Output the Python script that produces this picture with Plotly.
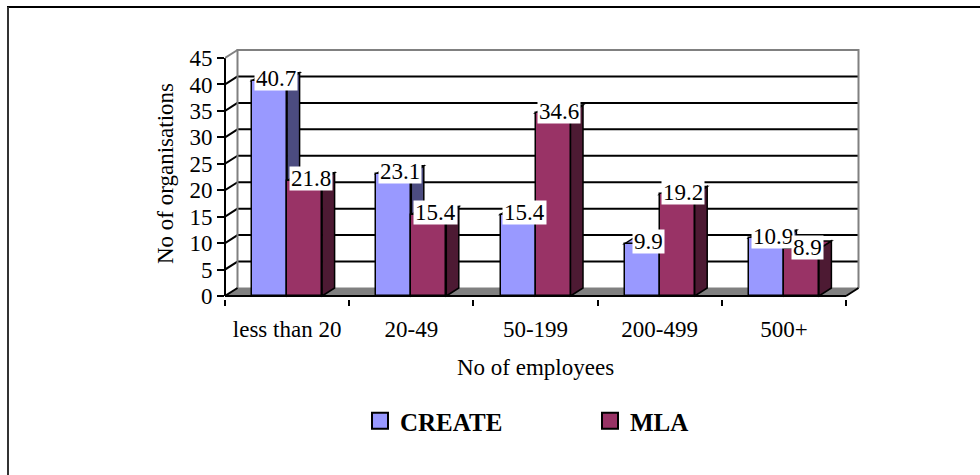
import plotly.graph_objects as go

# ---- data ----
categories = ["less than 20", "20-49", "50-199", "200-499", "500+"]
create_values = [40.7, 23.1, 15.4, 9.9, 10.9]
mla_values = [21.8, 15.4, 34.6, 19.2, 8.9]
y_ticks = [0, 5, 10, 15, 20, 25, 30, 35, 40, 45]
series_names = ["CREATE", "MLA"]

# ---- style ----
FONT = "Liberation Serif, Times New Roman, serif"
TXT = 23
FRONT = {"CREATE": "#9999FF", "MLA": "#993366"}
SIDE = {"CREATE": "#4C4C80", "MLA": "#4D1A33"}
WALL = "#808080"

W, H = 980, 475
# plot area in pixels
PL, PR, PT, PB = 225, 862, 47, 299
CAT_PX = 124.2          # pixels per category
UNIT_PX = 5.289         # pixels per value unit
ZERO_PX = 296           # pixel row of value 0 on the front plane
DEPTH_X, DEPTH_Y = 12.5, 8.0   # pixel offset of the back plane
BAR_PX = 35.0

n = len(categories)
x_lo = -0.5
x_hi = x_lo + (PR - PL) / CAT_PX
y_lo = -(PB - ZERO_PX) / UNIT_PX
y_hi = y_lo + (PB - PT) / UNIT_PX
DX = DEPTH_X / CAT_PX
DY = DEPTH_Y / UNIT_PX
BW = BAR_PX / CAT_PX
left, right = -0.5, n - 0.5
top = y_ticks[-1]


def paper_x(px):
    return (px - PL) / (PR - PL)


def paper_y(py):
    return (PB - py) / (PB - PT)


def poly(pts, fill, line="black", width=1.5, layer="below"):
    d = "M " + " L ".join(f"{x},{y}" for x, y in pts) + " Z"
    return dict(type="path", path=d, xref="x", yref="y", fillcolor=fill,
                line=dict(color=line, width=width), layer=layer)


def seg(x0, y0, x1, y1, color="black", width=2, xref="x", yref="y"):
    return dict(type="line", x0=x0, y0=y0, x1=x1, y1=y1, xref=xref, yref=yref,
                line=dict(color=color, width=width), layer="below")


shapes = []
# floor
shapes.append(poly([(left, 0), (right, 0), (right + DX, DY), (left + DX, DY)],
                   WALL, line=WALL, width=1))
# back-wall and side-wall gridlines
for v in y_ticks[1:-1]:
    shapes.append(seg(left + DX, v + DY, right + DX, v + DY))
    shapes.append(seg(left, v, left + DX, v + DY))
# wall outlines
shapes.append(dict(type="path", xref="x", yref="y", layer="below",
                   path=(f"M {left + DX},{DY} L {left + DX},{top + DY} "
                         f"L {right + DX},{top + DY} L {right + DX},{DY}"),
                   line=dict(color=WALL, width=2)))
shapes.append(seg(left, top, left + DX, top + DY, color=WALL))
# front edges of the floor and the value axis
shapes.append(seg(left, 0, right, 0))
shapes.append(seg(right, 0, right + DX, DY))
shapes.append(seg(left, 0, left + DX, DY))
shapes.append(seg(0, 0, 0, top, xref="paper", yref="y"))

# bar side and top faces, drawn left to right
series = [("CREATE", create_values, -BW), ("MLA", mla_values, 0.0)]
for i in range(n):
    for name, vals, off in series:
        v = vals[i]
        x0 = i + off
        x1 = x0 + BW
        shapes.append(poly([(x1, 0), (x1 + DX, DY), (x1 + DX, v + DY), (x1, v)],
                           SIDE[name]))
        shapes.append(poly([(x0, v), (x1, v), (x1 + DX, v + DY), (x0 + DX, v + DY)],
                           FRONT[name]))

# outer frame
shapes.append(dict(type="line", xref="paper", yref="paper",
                   x0=paper_x(7), x1=paper_x(985), y0=paper_y(7), y1=paper_y(7),
                   line=dict(color="black", width=2)))
shapes.append(dict(type="line", xref="paper", yref="paper",
                   x0=paper_x(8), x1=paper_x(8), y0=paper_y(7), y1=paper_y(480),
                   line=dict(color="#333333", width=2)))

fig = go.Figure()
for name, vals, off in series:
    fig.add_trace(go.Bar(
        x=list(range(n)), y=vals, name=name, showlegend=False,
        offset=off, width=BW,
        marker=dict(color=FRONT[name], line=dict(color="black", width=1.5)),
        hoverinfo="skip",
    ))
# legend entries
for name in series_names:
    fig.add_trace(go.Scatter(
        x=[None], y=[None], mode="markers", name=f"<b>{name}</b>",
        marker=dict(symbol="square", size=16, color=FRONT[name],
                    line=dict(color="black", width=2)),
    ))

annotations = []
for i in range(n):
    for name, vals, off in series:
        v = vals[i]
        annotations.append(dict(
            x=i + off + BW / 2 + DX / 2, y=v + 0.35, xref="x", yref="y",
            text=f"{v}", showarrow=False, bgcolor="white", borderpad=1,
            height=21, font=dict(family=FONT, size=TXT, color="black"),
            xanchor="center", yanchor="middle"))
annotations.append(dict(
    x=(n - 1) / 2, y=paper_y(367), xref="x", yref="paper",
    text="No of employees", showarrow=False,
    font=dict(family=FONT, size=TXT, color="black"),
    xanchor="center", yanchor="middle"))
annotations.append(dict(
    x=paper_x(165), y=paper_y(174), xref="paper", yref="paper",
    text="No of organisations", showarrow=False, textangle=-90,
    font=dict(family=FONT, size=TXT, color="black"),
    xanchor="center", yanchor="middle"))

fig.update_layout(
    width=W, height=H, autosize=False,
    margin=dict(l=PL, r=W - PR, t=PT, b=H - PB, pad=0),
    paper_bgcolor="white", plot_bgcolor="white",
    shapes=shapes, annotations=annotations,
    bargap=0, barmode="overlay",
    showlegend=True,
    legend=dict(orientation="h", x=paper_x(360), y=paper_y(421),
                xanchor="left", yanchor="middle",
                entrywidth=185, entrywidthmode="pixels",
                font=dict(family=FONT, size=25, color="black"),
                bgcolor="rgba(0,0,0,0)", itemclick=False),
    xaxis=dict(range=[x_lo, x_hi], tickvals=list(range(n)), ticktext=categories,
               ticks="outside", ticklen=9, tickcolor="rgba(0,0,0,0)",
               showgrid=False, zeroline=False, showline=False,
               tickfont=dict(family=FONT, size=TXT, color="black"),
               minor=dict(tickmode="array",
                          tickvals=[k - 0.5 for k in range(n + 1)],
                          ticks="outside", ticklen=6, tickwidth=1.5,
                          tickcolor="black", showgrid=False),
               fixedrange=True),
    yaxis=dict(range=[y_lo, y_hi], tickvals=y_ticks,
               ticks="outside", ticklen=7, tickwidth=2, tickcolor="black",
               showgrid=False, zeroline=False, showline=False,
               tickfont=dict(family=FONT, size=TXT, color="black"),
               fixedrange=True),
)

fig.write_html("out.html")
